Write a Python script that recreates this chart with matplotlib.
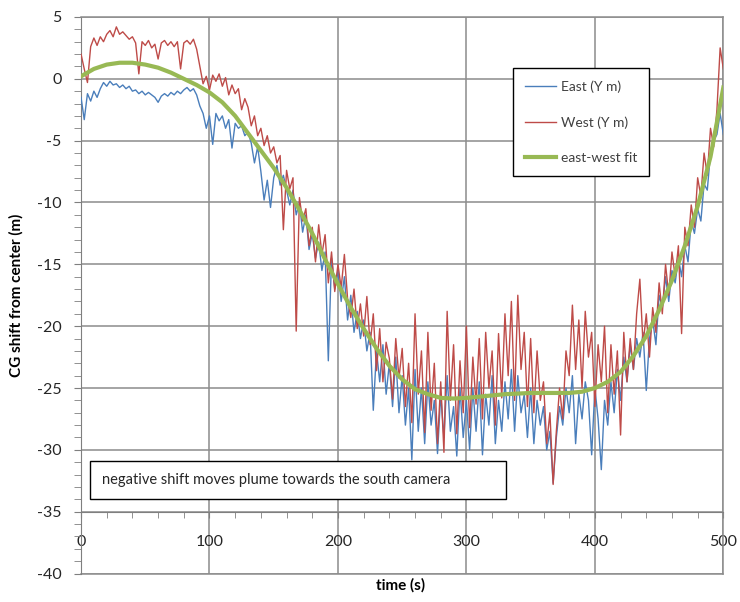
import matplotlib.pyplot as plt
import numpy as np
from matplotlib.ticker import MultipleLocator
from matplotlib.patches import Rectangle

plt.rcParams['font.family'] = ['Lato', 'DejaVu Sans']
plt.rcParams['axes.unicode_minus'] = False

# time axis, one reading every 2.5 s
t = np.arange(0, 500.1, 2.5)

east = [-1.5, -3.3, -1.2, -1.8, -1.0, -1.5, -0.8, -0.3, -0.6, -0.2,
        -0.5, -0.4, -0.7, -0.5, -0.8, -0.6, -1.0, -0.9, -1.2, -1.0,
        -1.3, -1.1, -1.3, -1.5, -1.9, -1.4, -1.2, -1.4, -1.1, -1.3,
        -1.0, -1.2, -0.9, -0.7, -1.0, -0.8, -1.3, -2.2, -2.8, -4.0,
        -3.0, -5.3, -2.8, -3.4, -3.0, -4.0, -3.3, -5.6, -3.6, -4.0,
        -3.8, -4.6, -4.3, -5.2, -6.8, -5.5, -7.5, -9.8, -8.2, -10.4,
        -8.0, -7.0, -8.6, -7.8, -9.0, -10.2, -9.0, -11.0, -10.0, -12.4,
        -11.0, -13.8, -12.5, -14.5, -13.2, -15.5, -14.0, -22.8, -14.5, -17.0,
        -15.5, -18.0, -16.0, -19.5, -17.5, -20.5, -18.8, -21.0, -19.5, -22.0,
        -20.5, -26.8, -22.0, -24.5, -21.5, -25.5, -23.0, -26.5, -22.5, -27.0,
        -24.0, -28.0, -25.0, -30.8, -23.5, -28.5, -25.0, -29.5, -24.5, -28.0,
        -26.0, -30.3, -25.5, -29.0, -24.0, -28.5, -26.5, -30.5, -25.0, -29.0,
        -26.0, -30.0, -25.0, -28.5, -24.5, -30.4, -25.5, -28.0, -24.0, -29.5,
        -26.0, -28.5, -24.5, -27.5, -23.5, -28.5, -24.0, -27.0, -25.5, -29.0,
        -25.0, -29.5, -26.0, -28.0, -26.5, -30.0, -28.5, -32.7, -29.0, -26.5,
        -28.0, -25.0, -27.0, -24.0, -29.5, -25.5, -27.5, -24.5, -26.0, -30.4,
        -25.0, -27.5, -31.6, -26.0, -28.0, -24.5, -27.0, -23.5, -26.0, -22.5,
        -24.5, -21.5, -23.5, -21.0, -22.5, -20.5, -25.2, -21.0, -19.5, -21.5,
        -17.5, -18.5, -16.0, -18.0, -15.5, -16.5, -14.5, -16.0, -13.5, -14.8,
        -11.5, -12.5, -10.5, -11.5, -8.5, -9.0, -6.0, -5.0, -4.5, -2.8,
        -4.5]

west = [2.0, 0.8, -0.3, 2.6, 3.3, 2.7, 3.4, 3.0, 3.6, 3.9,
        3.4, 4.2, 3.6, 3.8, 3.5, 3.2, 3.4, 2.9, 0.4, 3.0,
        2.7, 3.1, 2.5, 2.8, 1.6, 2.9, 3.1, 2.7, 3.0, 2.6,
        3.0, 0.8, 2.9, 3.1, 2.8, 3.2, 2.4, 1.0, -0.4, 0.2,
        -0.9, 0.3, -0.2, 0.4, -0.6, 0.1, -1.3, -0.5, -1.2, -0.8,
        -2.5, -1.6, -2.3, -3.8, -3.0, -4.6, -4.0, -5.4, -4.6, -6.0,
        -5.5, -6.8, -6.2, -12.2, -7.4, -8.9, -8.0, -20.4, -9.6, -11.5,
        -10.5, -13.5, -12.0, -14.8, -11.8, -14.2, -12.6, -16.5, -14.0, -17.2,
        -15.0, -16.9, -14.2, -17.8, -19.3, -17.0, -20.2, -18.2, -20.8, -17.6,
        -21.5, -19.0, -23.6, -20.2, -24.5, -21.3, -22.6, -25.9, -21.0, -24.2,
        -21.8, -26.5, -23.0, -27.8, -19.0, -25.5, -22.0, -28.6, -20.5, -26.8,
        -23.0, -29.5, -24.5, -30.2, -18.8, -26.0, -21.5, -28.7, -22.8, -27.0,
        -20.0, -28.2, -22.5, -26.3, -21.0, -27.5, -20.5, -25.0, -22.0, -28.0,
        -20.6, -25.8, -19.0, -24.0, -18.0, -26.0, -17.5, -23.5, -20.5, -26.5,
        -21.0, -27.0, -22.0, -26.0, -24.5, -29.5, -27.0, -32.8, -28.5, -25.0,
        -27.5, -22.0, -24.0, -18.3, -23.5, -19.5, -25.0, -18.8, -22.5, -20.5,
        -26.5, -21.5, -24.5, -20.0, -27.0, -21.5, -25.5, -22.0, -28.8, -20.5,
        -24.5, -21.0, -23.5, -19.0, -16.2, -21.5, -19.0, -22.5, -18.5, -20.5,
        -16.5, -19.0, -15.0, -17.5, -14.0, -16.0, -13.5, -20.6, -12.0, -13.5,
        -10.2, -12.0, -8.0, -9.5, -6.0, -7.8, -4.0, -5.5, -2.5, 2.5,
        0.8]

# smooth east-west fit, every 10 s
t_fit = np.arange(0, 500.1, 10)
fit = [0.2, 0.8, 1.15, 1.3, 1.3, 1.15, 0.9, 0.5, 0.0, -0.5,
       -1.1, -1.9, -3.0, -4.4, -5.8, -7.2, -8.8, -10.6, -12.5, -14.6,
       -16.6, -18.5, -20.2, -21.8, -23.2, -24.3, -25.1, -25.5, -25.8, -25.85,
       -25.8, -25.7, -25.6, -25.5, -25.45, -25.4, -25.4, -25.4, -25.4, -25.3,
       -25.0, -24.5, -23.7, -22.4, -20.8, -18.7, -16.3, -13.5, -10.3, -6.3,
       -0.7]

fig = plt.figure(figsize=(7.4, 6.02), dpi=100)
ax = fig.add_axes([0.1095, 0.0473, 0.868, 0.9245])

ax.plot(t, east, color='#4A7EBB', lw=1.0, label='East (Y m)', zorder=3)
ax.plot(t, west, color='#BE4B48', lw=1.0, label='West (Y m)', zorder=4)
ax.plot(t_fit, fit, color='#98B954', lw=3, label='east-west fit', zorder=5)

ax.set_xlim(0, 500)
ax.set_ylim(-40, 5)
ax.xaxis.set_major_locator(MultipleLocator(100))
ax.xaxis.set_minor_locator(MultipleLocator(20))
ax.yaxis.set_major_locator(MultipleLocator(5))
ax.yaxis.set_minor_locator(MultipleLocator(1))
ax.grid(True, which='major', color='#8c8c8c', lw=1.1, zorder=1)
ax.set_axisbelow(True)

# horizontal axis crosses at -35, like the original spreadsheet chart
ax.spines['bottom'].set_position(('data', -35))
ax.spines['bottom'].set_color('#7f7f7f')
ax.spines['left'].set_color('#7f7f7f')
for s in ['top', 'right']:
    ax.spines[s].set_color('#8c8c8c')
    ax.spines[s].set_linewidth(1.1)
ax.axhline(-40, color='#8c8c8c', lw=1.1, zorder=1, clip_on=False)

ax.tick_params(axis='x', which='both', direction='out', length=4, color='#7f7f7f',
               labelsize=11.5, labelcolor='#262626', pad=13)
ax.tick_params(axis='y', which='both', direction='out', length=5, color='#7f7f7f',
               labelsize=11.5, labelcolor='#262626', pad=9)

ax.set_xlabel('time (s)', fontsize=11, fontweight='bold', va='center')
ax.xaxis.set_label_coords(0.498, -0.021)
ax.set_ylabel('CG shift from center (m)', fontsize=11, fontweight='bold', va='center')
ax.yaxis.set_label_coords(-0.1, 0.5)

leg = ax.legend(loc='upper left', bbox_to_anchor=(0.672, 0.908), fontsize=10,
                frameon=True, fancybox=False, edgecolor='black', framealpha=1,
                handlelength=2.2, handletextpad=0.35, labelspacing=1.65,
                borderpad=0.9, borderaxespad=0)
leg.get_frame().set_linewidth(1.0)
for txt in leg.get_texts():
    txt.set_color('#404040')

box = Rectangle((7, -34.0), 323.7, 3.1, facecolor='white', edgecolor='black',
                lw=1.0, zorder=10)
ax.add_patch(box)
ax.text(16.3, -32.45, 'negative shift moves plume towards the south camera',
        fontsize=10.5, color='#262626', va='center', ha='left', zorder=11)

fig.savefig('out.png', dpi=100)
